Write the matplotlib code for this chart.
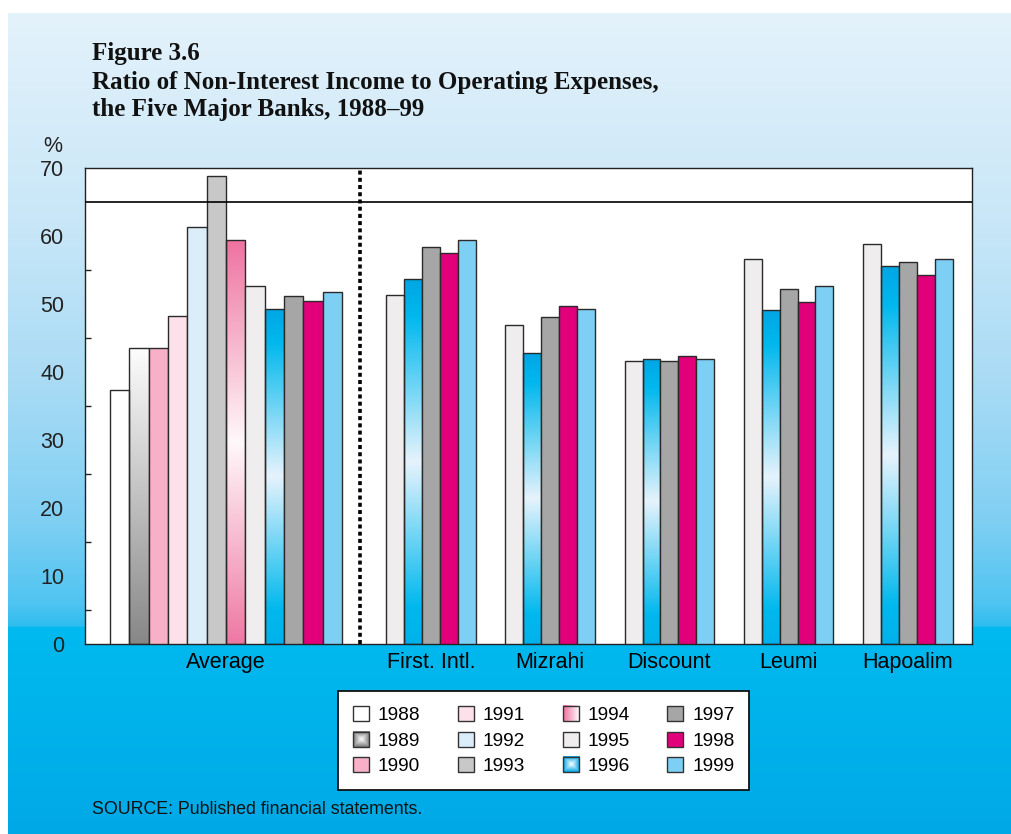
import matplotlib.pyplot as plt
import numpy as np
from matplotlib.colors import to_rgb
from matplotlib.legend_handler import HandlerBase
from matplotlib.patches import Rectangle
from matplotlib.image import BboxImage
from matplotlib.transforms import Bbox, TransformedBbox

plt.rcParams['font.family'] = ['Liberation Sans', 'DejaVu Sans']

# data
years = ['1988', '1989', '1990', '1991', '1992', '1993',
         '1994', '1995', '1996', '1997', '1998', '1999']
average = [37.4, 43.5, 43.5, 48.2, 61.3, 68.9, 59.4, 52.7, 49.3, 51.2, 50.4, 51.8]
banks = ['First. Intl.', 'Mizrahi', 'Discount', 'Leumi', 'Hapoalim']
bank_years = ['1995', '1996', '1997', '1998', '1999']
first_intl = [51.3, 53.7, 58.4, 57.6, 59.4]
mizrahi = [47.0, 42.8, 48.1, 49.8, 49.3]
discount = [41.7, 42.0, 41.7, 42.4, 41.9]
leumi = [56.6, 49.1, 52.2, 50.3, 52.7]
hapoalim = [58.9, 55.6, 56.2, 54.3, 56.6]
bank_values = [first_intl, mizrahi, discount, leumi, hapoalim]
ref_level = 65

# colours per year; gradient years get a list of (pos, colour) stops
solid = {
    '1988': '#ffffff', '1990': '#f7b0c8', '1991': '#fde1ea', '1992': '#dcedfa',
    '1993': '#c9c8c9', '1995': '#efedee', '1997': '#a7a6a7', '1998': '#e2007a',
    '1999': '#7dcff4',
}
grad = {
    '1989': [(0, '#fdfdfd'), (1, '#878787')],
    '1994': [(0, '#ee73a0'), (0.5, '#fff8fa'), (1, '#ee78a3')],
    '1996': [(0, '#00a6e4'), (0.1, '#00b8ee'), (0.5, '#e6f3fc'), (0.9, '#00b8ee'), (1, '#00b2eb')],
}


def ramp(stops, t):
    pos = [s[0] for s in stops]
    cols = np.array([to_rgb(s[1]) for s in stops])
    return np.stack([np.interp(t, pos, cols[:, k]) for k in range(3)], axis=-1)


W, H = 1011, 834
fig = plt.figure(figsize=(W / 100, H / 100), dpi=100, facecolor='white')

# background panel gradient (row 0 = top)
bg = fig.add_axes([8 / W, 0, 1 - 8 / W, (H - 13) / H], zorder=-5)
bg.axis('off')
yy = np.linspace(0, 1, 800)
bg_stops = [(0, '#e4f2fb'), (0.25, '#c9e7f8'), (0.45, '#a9dbf5'), (0.62, '#7fcff3'),
            (0.72, '#4ec4f1'), (0.748, '#2dbdef'), (0.7481, '#00baef'), (1, '#00a9e6')]
bg.imshow(ramp(bg_stops, yy)[:, None, :], aspect='auto', extent=(0, 1, 0, 1))
bg.set_xlim(0, 1)
bg.set_ylim(0, 1)

ax = fig.add_axes([85.3 / W, 1 - 644 / H, 887 / W, (644 - 168.3) / H])
ax.set_facecolor('white')

avg_center = 0.0
bank_centers = 1.72 + np.arange(len(banks))
wa, wb = 0.162, 0.150


def draw_bar(x, h, w, year):
    if year in grad:
        b = ax.bar(x, h, w, facecolor='none', edgecolor='#2a2a2a', lw=1.0, zorder=3)[0]
        t = np.linspace(0, 1, 256)
        img = ax.imshow(ramp(grad[year], t)[:, None, :], aspect='auto',
                        extent=(x - w / 2, x + w / 2, 0, h), zorder=2)
        img.set_clip_path(b)
    else:
        ax.bar(x, h, w, color=solid[year], edgecolor='#2a2a2a', lw=1.0, zorder=3)


for i, (yr, v) in enumerate(zip(years, average)):
    draw_bar(avg_center + (i - 5.5) * wa, v, wa, yr)

for c, vals in zip(bank_centers, bank_values):
    for j, (yr, v) in enumerate(zip(bank_years, vals)):
        draw_bar(c + (j - 2) * wb, v, wb, yr)

ax.axhline(ref_level, color='black', lw=1.2, zorder=4)
ax.axvline(1.124, color='black', lw=2.6, linestyle=(0, (1.1, 0.9)), zorder=4)

ax.set_xlim(-1.180, 6.261)
ax.set_ylim(0, 70)
ax.set_xticks([avg_center] + list(bank_centers))
ax.set_xticklabels(['Average'] + banks, fontsize=15.5)
ax.tick_params(axis='x', length=0, pad=6)
ax.set_yticks(range(0, 71, 10))
ax.tick_params(axis='y', length=0, pad=15, labelsize=15.5, labelcolor='#222222')
ax.set_yticks(range(5, 60, 10), minor=True)
ax.tick_params(axis='y', which='minor', direction='in', length=4, width=1, color='#222222')
for s in ax.spines.values():
    s.set_color('#222222')
    s.set_linewidth(1.0)

fig.text(53 / W, 1 - 146 / H, '%', fontsize=15.5, ha='center', va='center', color='#222222')

title_lines = ['Figure 3.6',
               'Ratio of Non-Interest Income to Operating Expenses,',
               'the Five Major Banks, 1988\u201399']
for line, base in zip(title_lines, [60, 89, 115.7]):
    fig.text(91.7 / W, 1 - base / H, line, fontsize=18, fontweight='bold',
             family='Liberation Serif', va='baseline', ha='left', color='#111111')

fig.text(91.5 / W, 1 - 810 / H, 'SOURCE: Published financial statements.',
         fontsize=12.8, ha='left', va='center', color='#111111')


# legend with gradient swatches
class GradHandler(HandlerBase):
    def __init__(self, stops, mode):
        super().__init__()
        self.stops = stops
        self.mode = mode

    def create_artists(self, legend, orig_handle, xdescent, ydescent, width, height, fontsize, trans):
        n = 32
        u, v = np.meshgrid(np.linspace(-1, 1, n), np.linspace(-1, 1, n))
        if self.mode == 'h':
            t = (u + 1) / 2
        else:
            t = 1 - np.clip(np.maximum(abs(u), abs(v)), 0, 1)
        data = ramp(self.stops, t)
        bb = TransformedBbox(Bbox.from_bounds(-xdescent, -ydescent, width, height), trans)
        im = BboxImage(bb, interpolation='bilinear')
        im.set_data(data)
        r = Rectangle((-xdescent, -ydescent), width, height, facecolor='none',
                      edgecolor='#333333', lw=1.0, transform=trans)
        return [im, r]


leg_handler = {
    '1989': GradHandler([(0, '#7a7a7a'), (1, '#ffffff')], 'r'),
    '1994': GradHandler([(0, '#ee6f9e'), (1, '#ffffff')], 'h'),
    '1996': GradHandler([(0, '#00a8e8'), (1, '#ffffff')], 'r'),
}
handles = []
hmap = {}
for yr in years:
    if yr in grad:
        h = Rectangle((0, 0), 1, 1)
        hmap[h] = leg_handler[yr]
    else:
        h = Rectangle((0, 0), 1, 1, facecolor=solid[yr], edgecolor='#333333', lw=1.0)
    handles.append(h)

leg = fig.legend(handles, years, handler_map=hmap, ncol=4, loc='upper left',
                 bbox_to_anchor=(338 / W, 1 - 691 / H), fontsize=13.8,
                 frameon=True, fancybox=False, framealpha=1, edgecolor='#111111',
                 handlelength=0.85, handleheight=0.85, handletextpad=0.45,
                 columnspacing=1.95, labelspacing=0.38, borderpad=0.78,
                 borderaxespad=0)
leg.get_frame().set_linewidth(1.3)

fig.savefig('out.png', dpi=100)
